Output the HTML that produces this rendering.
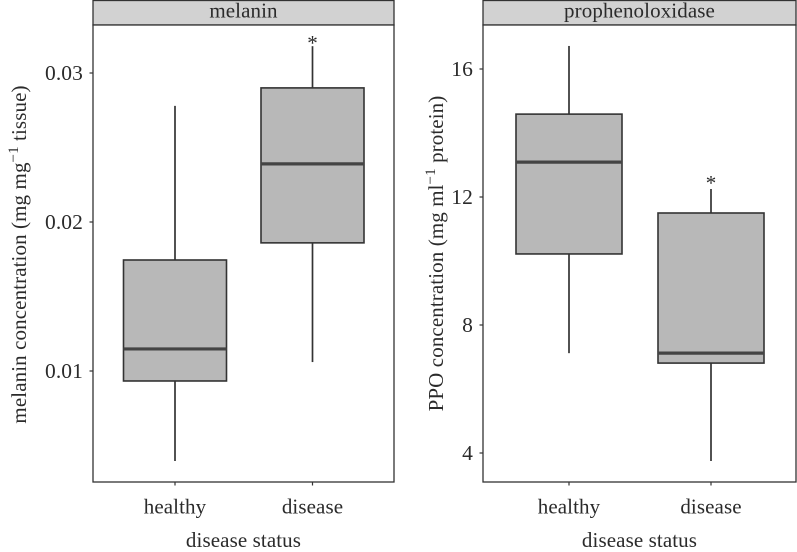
<!DOCTYPE html>
<html>
<head>
<meta charset="utf-8">
<style>
html,body{margin:0;padding:0;background:#fff;}
svg{display:block;font-family:"Liberation Serif",serif;fill:#2b2b2b;}
text{fill:#2b2b2b;letter-spacing:0.1px;}
</style>
</head>
<body>
<svg id="chart" width="797" height="552" viewBox="0 0 797 552" xmlns="http://www.w3.org/2000/svg"></svg>
<script>
const categories = ["healthy", "disease"];
const melaninTicks = [0.01, 0.02, 0.03];
const melaninTickLabels = ["0.01", "0.02", "0.03"];
const melaninLow = [0.00396, 0.0106];
const melaninQ1 = [0.00933, 0.0186];
const melaninMedian = [0.01148, 0.0239];
const melaninQ3 = [0.01745, 0.029];
const melaninHigh = [0.02779, 0.0318];
const melaninOutlier = [null, 0.0322];
const ppoTicks = [4, 8, 12, 16];
const ppoTickLabels = ["4", "8", "12", "16"];
const ppoLow = [7.12, 3.75];
const ppoQ1 = [10.22, 6.81];
const ppoMedian = [13.09, 7.12];
const ppoQ3 = [14.59, 11.5];
const ppoHigh = [16.72, 12.25];
const ppoOutlier = [null, 12.53];

const NS = "http://www.w3.org/2000/svg";
const svg = document.getElementById("chart");
const INK = "#333333";

function make(tag, attrs, parent) {
  const el = document.createElementNS(NS, tag);
  for (const k in attrs) el.setAttribute(k, attrs[k]);
  parent.appendChild(el);
  return el;
}

function drawPanel(p) {
  const g = make("g", {}, svg);
  
  
  const y = v => p.y0 + (v - p.v0) * (p.y1 - p.y0) / (p.v1 - p.v0);
  const x = i => p.cx0 + i * (p.cx1 - p.cx0);

  const strip = make("rect", {x: p.left, y: 0.5, width: p.right - p.left, height: p.top - 0.5, fill: "#d2d2d2", stroke: INK, "stroke-width": 1.3}, g);
  
  
  const stripText = make("text", {x: (p.left + p.right) / 2, y: 17.5, "text-anchor": "middle", "font-size": 21}, g);
  stripText.textContent = p.title;
  
  

  const border = make("rect", {x: p.left, y: p.top, width: p.right - p.left, height: p.bottom - p.top, fill: "#fff", stroke: INK, "stroke-width": 1.3}, g);
  
  

  p.ticks.forEach((t, i) => {
    const tick = make("line", {x1: p.left - 3.5, x2: p.left, y1: y(t), y2: y(t), stroke: INK, "stroke-width": 1.2}, g);
    
    
    const lab = make("text", {x: p.left - 10, y: y(t) + 7, "text-anchor": "end", "font-size": 21.5}, g);
    lab.textContent = p.tickLabels[i];
    
    
  });

  categories.forEach((c, i) => {
    const cx = x(i);
    const tick = make("line", {x1: cx, x2: cx, y1: p.bottom, y2: p.bottom + 3.5, stroke: INK, "stroke-width": 1.2}, g);
    
    
    const lab = make("text", {x: cx, y: 513.5, "text-anchor": "middle", "font-size": 21}, g);
    lab.textContent = c;
    
    

    const whiskerHigh = make("line", {x1: cx, x2: cx, y1: y(p.high[i]), y2: y(p.q3[i]), stroke: INK, "stroke-width": 1.7}, g);
    
    
    const whiskerLow = make("line", {x1: cx, x2: cx, y1: y(p.q1[i]), y2: y(p.low[i]), stroke: INK, "stroke-width": 1.7}, g);
    
    
    const box = make("rect", {x: cx - p.boxW / 2, y: y(p.q3[i]), width: p.boxW, height: y(p.q1[i]) - y(p.q3[i]), fill: "#b8b8b8", stroke: INK, "stroke-width": 1.6}, g);
    
    
    const med = make("line", {x1: cx - p.boxW / 2, x2: cx + p.boxW / 2, y1: y(p.median[i]), y2: y(p.median[i]), stroke: "#444444", "stroke-width": 3.2}, g);
    
    
    if (p.outlier[i] !== null) {
      const star = make("text", {x: cx, y: y(p.outlier[i]) + 10, "text-anchor": "middle", "font-size": 21}, g);
      star.textContent = "*";
      
      
    }
  });

  const xTitle = make("text", {x: p.xTitleX, y: 547, "text-anchor": "middle", "font-size": 21}, g);
  xTitle.textContent = "disease status";
  
  

  const yTitle = make("text", {transform: "translate(" + p.yTitleX + "," + p.yTitleY + ") rotate(-90)", "text-anchor": "middle", "font-size": 21}, g);
  
  
  const a = make("tspan", {}, yTitle); a.textContent = p.yA;
  const b = make("tspan", {dy: -8, "font-size": 15}, yTitle); b.textContent = "\u22121";
  const d = make("tspan", {dy: 8}, yTitle); d.textContent = p.yB;
}

drawPanel({
  id: "melanin", title: "melanin", left: 93, right: 394, top: 25, bottom: 482,
  v0: 0.01, v1: 0.03, y0: 371, y1: 73, cx0: 175, cx1: 312.5, boxW: 103,
  ticks: melaninTicks, tickLabels: melaninTickLabels,
  low: melaninLow, q1: melaninQ1, median: melaninMedian, q3: melaninQ3, high: melaninHigh, outlier: melaninOutlier,
  xTitleX: 243.5, yTitleX: 26, yTitleY: 254.5,
  yA: "melanin concentration (mg mg", yB: " tissue)"
});
drawPanel({
  id: "ppo", title: "prophenoloxidase", left: 483, right: 796, top: 25, bottom: 482,
  v0: 4, v1: 16, y0: 453, y1: 69, cx0: 569, cx1: 711, boxW: 106,
  ticks: ppoTicks, tickLabels: ppoTickLabels,
  low: ppoLow, q1: ppoQ1, median: ppoMedian, q3: ppoQ3, high: ppoHigh, outlier: ppoOutlier,
  xTitleX: 639.5, yTitleX: 443, yTitleY: 253.5,
  yA: "PPO concentration (mg ml", yB: " protein)"
});
</script>
</body>
</html>
